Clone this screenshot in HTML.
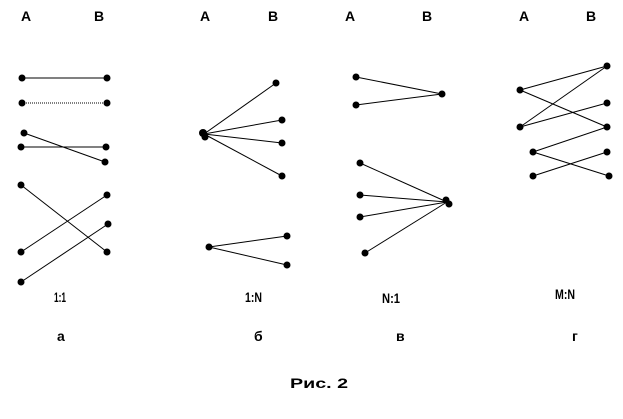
<!DOCTYPE html>
<html><head><meta charset="utf-8"><style>
html,body{margin:0;padding:0;background:#fff;width:623px;height:419px;overflow:hidden}
text{font-family:"Liberation Sans",sans-serif;font-weight:bold;font-size:14px;fill:#000}
line{stroke:#000;stroke-width:1}
circle{fill:#000}
</style></head><body>
<svg width="623" height="419" xmlns="http://www.w3.org/2000/svg">
<g>
<text x="21" y="21">A</text><text x="94" y="21">B</text>
<text x="200" y="21">A</text><text x="268" y="21">B</text>
<text x="345" y="21">A</text><text x="422" y="21">B</text>
<text x="519" y="21">A</text><text x="586" y="21">B</text>
</g>
<!-- a -->
<line x1="22" y1="78" x2="107" y2="78"/>
<line x1="22" y1="103" x2="107" y2="103" stroke-dasharray="1,1"/>
<line x1="24" y1="133" x2="105" y2="162"/>
<line x1="21" y1="147" x2="106" y2="147"/>
<line x1="21" y1="185" x2="107" y2="252"/>
<line x1="21" y1="252" x2="107" y2="195"/>
<line x1="21" y1="282" x2="108" y2="224"/>
<g>
<circle cx="22" cy="78" r="3.5"/><circle cx="107" cy="78" r="3.5"/>
<circle cx="22" cy="103" r="3.5"/><circle cx="107" cy="103" r="3.5"/>
<circle cx="24" cy="133" r="3.5"/><circle cx="105" cy="162" r="3.5"/>
<circle cx="21" cy="147" r="3.5"/><circle cx="106" cy="147" r="3.5"/>
<circle cx="21" cy="185" r="3.5"/><circle cx="107" cy="252" r="3.5"/>
<circle cx="21" cy="252" r="3.5"/><circle cx="107" cy="195" r="3.5"/>
<circle cx="21" cy="282" r="3.5"/><circle cx="108" cy="224" r="3.5"/>
</g>
<!-- б -->
<line x1="204" y1="134" x2="276" y2="83"/>
<line x1="204" y1="134" x2="282" y2="120"/>
<line x1="204" y1="134" x2="282" y2="143"/>
<line x1="204" y1="134" x2="282" y2="176"/>
<line x1="209" y1="247" x2="287" y2="236"/>
<line x1="209" y1="247" x2="287" y2="265"/>
<circle cx="203" cy="133" r="4"/><circle cx="205" cy="137" r="3.5"/>
<circle cx="276" cy="83" r="3.5"/><circle cx="282" cy="120" r="3.5"/>
<circle cx="282" cy="143" r="3.5"/><circle cx="282" cy="176" r="3.5"/>
<circle cx="209" cy="247" r="3.5"/><circle cx="287" cy="236" r="3.5"/><circle cx="287" cy="265" r="3.5"/>
<!-- в -->
<line x1="356" y1="77" x2="442" y2="94"/>
<line x1="356" y1="105" x2="442" y2="94"/>
<line x1="360" y1="163" x2="447" y2="202"/>
<line x1="360" y1="195" x2="447" y2="202"/>
<line x1="360" y1="217" x2="447" y2="202"/>
<line x1="365" y1="253" x2="447" y2="202"/>
<circle cx="356" cy="77" r="3.5"/><circle cx="356" cy="105" r="3.5"/><circle cx="442" cy="94" r="3.5"/>
<circle cx="360" cy="163" r="3.5"/><circle cx="360" cy="195" r="3.5"/><circle cx="360" cy="217" r="3.5"/><circle cx="365" cy="253" r="3.5"/>
<circle cx="446" cy="200" r="3.5"/><circle cx="449" cy="204" r="3.5"/>
<!-- г -->
<line x1="520" y1="90" x2="607" y2="66"/>
<line x1="520" y1="90" x2="607" y2="127"/>
<line x1="520" y1="127" x2="607" y2="66"/>
<line x1="520" y1="127" x2="607" y2="103"/>
<line x1="533" y1="152" x2="607" y2="127"/>
<line x1="533" y1="152" x2="609" y2="176"/>
<line x1="533" y1="176" x2="607" y2="152"/>
<circle cx="520" cy="90" r="3.5"/><circle cx="520" cy="127" r="3.5"/><circle cx="533" cy="152" r="3.5"/><circle cx="533" cy="176" r="3.5"/>
<circle cx="607" cy="66" r="3.5"/><circle cx="607" cy="103" r="3.5"/><circle cx="607" cy="127" r="3.5"/><circle cx="607" cy="152" r="3.5"/><circle cx="609" cy="176" r="3.5"/>
<!-- labels -->
<text x="54" y="302" font-size="13" textLength="12" lengthAdjust="spacingAndGlyphs">1:1</text>
<text x="245" y="302" font-size="13" textLength="17" lengthAdjust="spacingAndGlyphs">1:N</text>
<text x="382" y="303" font-size="13" textLength="18" lengthAdjust="spacingAndGlyphs">N:1</text>
<text x="555" y="299" font-size="13" textLength="20" lengthAdjust="spacingAndGlyphs">M:N</text>
<text x="57" y="341" font-size="13">а</text>
<text x="254" y="341" font-size="13">б</text>
<text x="396" y="341" font-size="13">в</text>
<text x="572" y="341" font-size="13">г</text>
<text x="290" y="388" font-size="14" textLength="58" lengthAdjust="spacingAndGlyphs">Рис. 2</text>
</svg>
</body></html>
